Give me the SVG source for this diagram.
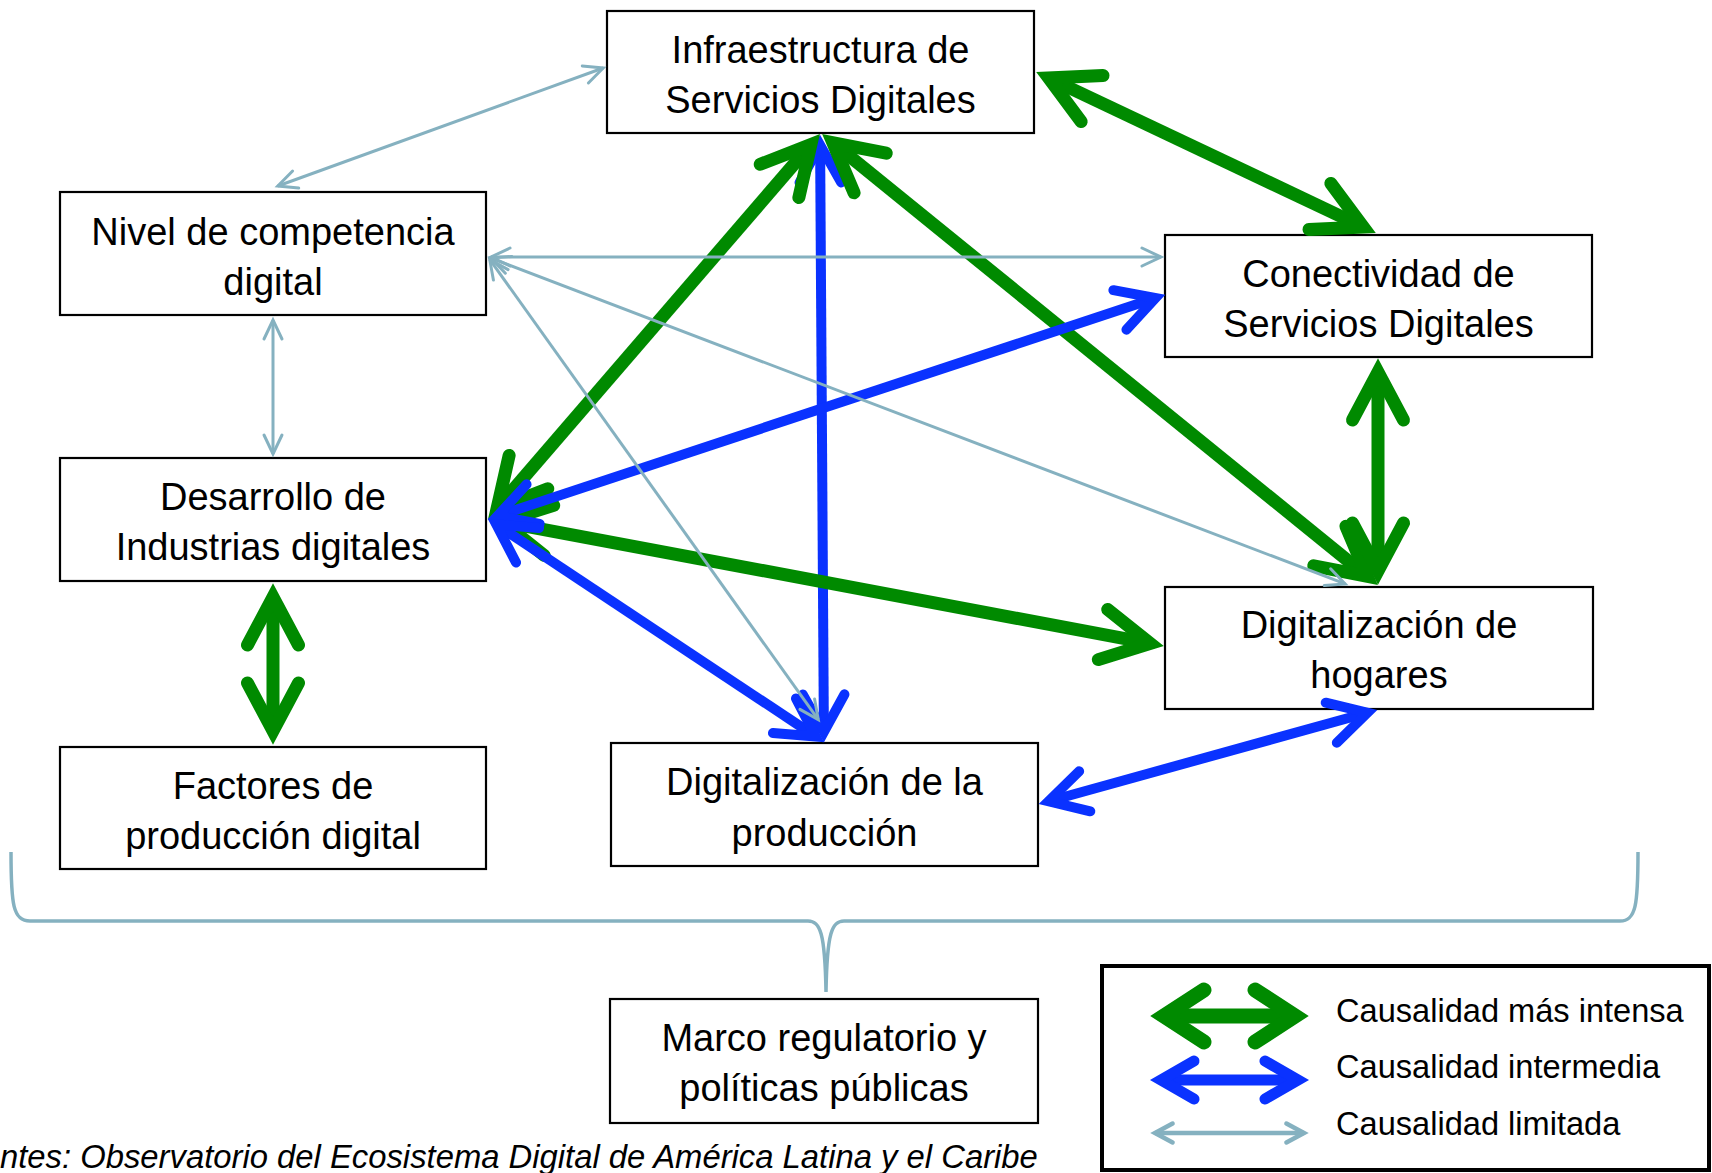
<svg xmlns="http://www.w3.org/2000/svg" width="1712" height="1173" viewBox="0 0 1712 1173">
<style>
.box{fill:#fff;stroke:#000;stroke-width:2.2}
.t{font-family:"Liberation Sans",Arial,sans-serif;font-size:38px;fill:#000;text-anchor:middle}
.lt{font-family:"Liberation Sans",Arial,sans-serif;font-size:32.6px;fill:#000}
.ft{font-family:"Liberation Sans",Arial,sans-serif;font-size:32.8px;font-style:italic;fill:#000}
.g{stroke:#008A00;stroke-width:13;fill:none}
.b{stroke:#0A32FF;stroke-width:10;fill:none}
.l{stroke:#85B1C0;stroke-width:3;fill:none}
.hg{stroke:#008A00;stroke-width:13;fill:none;stroke-linecap:round;stroke-linejoin:miter;stroke-miterlimit:10}
.hb{stroke:#0A32FF;stroke-width:10;fill:none;stroke-linecap:round;stroke-linejoin:miter;stroke-miterlimit:10}
.hl{stroke:#85B1C0;stroke-width:3;fill:none;stroke-linecap:round;stroke-linejoin:miter;stroke-miterlimit:10}
.brace{stroke:#85B1C0;stroke-width:3.5;fill:none}
</style>
<defs>
<marker id="mg" markerUnits="userSpaceOnUse" orient="auto-start-reverse" refX="0" refY="0" markerWidth="1" markerHeight="1" overflow="visible"><path class="hg" d="M-48,-25.5 L0,0 L-48,25.5"/></marker>
<marker id="mb" markerUnits="userSpaceOnUse" orient="auto-start-reverse" refX="0" refY="0" markerWidth="1" markerHeight="1" overflow="visible"><path class="hb" d="M-37.5,-20.8 L0,0 L-37.5,20.8"/></marker>
<marker id="ml" markerUnits="userSpaceOnUse" orient="auto-start-reverse" refX="0" refY="0" markerWidth="1" markerHeight="1" overflow="visible"><path class="hl" d="M-19,-9 L0,0 L-19,9"/></marker>
<marker id="mgL" markerUnits="userSpaceOnUse" orient="auto-start-reverse" refX="0" refY="0" markerWidth="1" markerHeight="1" overflow="visible"><path class="hg" style="stroke-width:15" d="M-40,-26 L0,0 L-40,26"/></marker>
<marker id="mbL" markerUnits="userSpaceOnUse" orient="auto-start-reverse" refX="0" refY="0" markerWidth="1" markerHeight="1" overflow="visible"><path class="hb" style="stroke-width:11" d="M-33,-19 L0,0 L-33,19"/></marker>
<marker id="mlL" markerUnits="userSpaceOnUse" orient="auto-start-reverse" refX="0" refY="0" markerWidth="1" markerHeight="1" overflow="visible"><path class="hl" style="stroke-width:4.5" d="M-17.6,-9.4 L0,0 L-17.6,9.4"/></marker>
</defs>
<rect width="1712" height="1173" fill="#fff"/>

<g id="brace">
<path class="brace" d="M11,852 C11,905 13,921 30,921 L808,921 C820,921 825,932 826,992 C827,932 832,921 844,921 L1620,921 C1636,921 1638,905 1638,852"/>
</g>

<g id="node-infraestructura">
<rect class="box" x="607" y="11" width="427" height="122"/>
<text class="t" x="820.5" y="63">Infraestructura de</text>
<text class="t" x="820.5" y="113">Servicios Digitales</text>
</g>
<g id="node-nivel">
<rect class="box" x="60" y="192" width="426" height="123"/>
<text class="t" x="273" y="245">Nivel de competencia</text>
<text class="t" x="273" y="295">digital</text>
</g>
<g id="node-conectividad">
<rect class="box" x="1165" y="235" width="427" height="122"/>
<text class="t" x="1378.5" y="287">Conectividad de</text>
<text class="t" x="1378.5" y="337">Servicios Digitales</text>
</g>
<g id="node-desarrollo">
<rect class="box" x="60" y="458" width="426" height="123"/>
<text class="t" x="273" y="510">Desarrollo de</text>
<text class="t" x="273" y="560">Industrias digitales</text>
</g>
<g id="node-hogares">
<rect class="box" x="1165" y="587" width="428" height="122"/>
<text class="t" x="1379" y="638">Digitalización de</text>
<text class="t" x="1379" y="688">hogares</text>
</g>
<g id="node-factores">
<rect class="box" x="60" y="747" width="426" height="122"/>
<text class="t" x="273" y="799">Factores de</text>
<text class="t" x="273" y="849">producción digital</text>
</g>
<g id="node-produccion">
<rect class="box" x="611" y="743" width="427" height="123"/>
<text class="t" x="824.5" y="795">Digitalización de la</text>
<text class="t" x="824.5" y="846">producción</text>
</g>
<g id="node-marco">
<rect class="box" x="610" y="999" width="428" height="124"/>
<text class="t" x="824" y="1051">Marco regulatorio y</text>
<text class="t" x="824" y="1101">políticas públicas</text>
</g>

<g id="connectors">
<line class="b" x1="820.1" y1="145" x2="823.9" y2="732" marker-start="url(#mb)" marker-end="url(#mb)"/>
<line class="g" x1="1048.7" y1="78" x2="1363.3" y2="227" marker-start="url(#mg)" marker-end="url(#mg)"/>
<line class="g" x1="810.9" y1="144.6" x2="497.1" y2="508.4" marker-start="url(#mg)" marker-end="url(#mg)"/>
<line class="g" x1="832.9" y1="142.8" x2="1367.1" y2="576.2" marker-start="url(#mg)" marker-end="url(#mg)"/>
<line class="g" x1="1378" y1="372" x2="1378" y2="571" marker-start="url(#mg)" marker-end="url(#mg)"/>
<line class="g" x1="501.8" y1="521.6" x2="1150.2" y2="643.4" marker-start="url(#mg)" marker-end="url(#mg)"/>
<line class="g" x1="273" y1="597" x2="273" y2="731" marker-start="url(#mg)" marker-end="url(#mg)"/>
<line class="b" x1="1155.5" y1="298.1" x2="497.5" y2="515.9" marker-start="url(#mb)" marker-end="url(#mb)"/>
<line class="b" x1="496.3" y1="524.5" x2="815.7" y2="736.5" marker-start="url(#mb)" marker-end="url(#mb)"/>
<line class="b" x1="1367.4" y1="712.7" x2="1048.6" y2="801.3" marker-start="url(#mb)" marker-end="url(#mb)"/>
<line class="l" x1="603.2" y1="68" x2="277.8" y2="186" marker-start="url(#ml)" marker-end="url(#ml)"/>
<line class="l" x1="491" y1="257" x2="1161" y2="257" marker-start="url(#ml)" marker-end="url(#ml)"/>
<line class="l" x1="490.8" y1="258.1" x2="1345.2" y2="583.9" marker-start="url(#ml)" marker-end="url(#ml)"/>
<line class="l" x1="489.7" y1="259.4" x2="818.3" y2="719.6" marker-start="url(#ml)" marker-end="url(#ml)"/>
<line class="l" x1="273" y1="320" x2="273" y2="454" marker-start="url(#ml)" marker-end="url(#ml)"/>
</g>

<g id="legend">
<rect x="1102" y="966" width="607" height="204" fill="#fff" stroke="#000" stroke-width="4"/>
<line class="g" style="stroke-width:15" x1="1164" y1="1016" x2="1295" y2="1016" marker-start="url(#mgL)" marker-end="url(#mgL)"/>
<line class="b" style="stroke-width:11" x1="1161" y1="1080" x2="1298" y2="1080" marker-start="url(#mbL)" marker-end="url(#mbL)"/>
<line class="l" style="stroke-width:4.5" x1="1155" y1="1133" x2="1304" y2="1133" marker-start="url(#mlL)" marker-end="url(#mlL)"/>
<text class="lt" x="1336" y="1022">Causalidad más intensa</text>
<text class="lt" x="1336" y="1078">Causalidad intermedia</text>
<text class="lt" x="1336" y="1135">Causalidad limitada</text>
</g>

<text class="ft" x="0" y="1168">ntes: Observatorio del Ecosistema Digital de América Latina y el Caribe</text>
</svg>
